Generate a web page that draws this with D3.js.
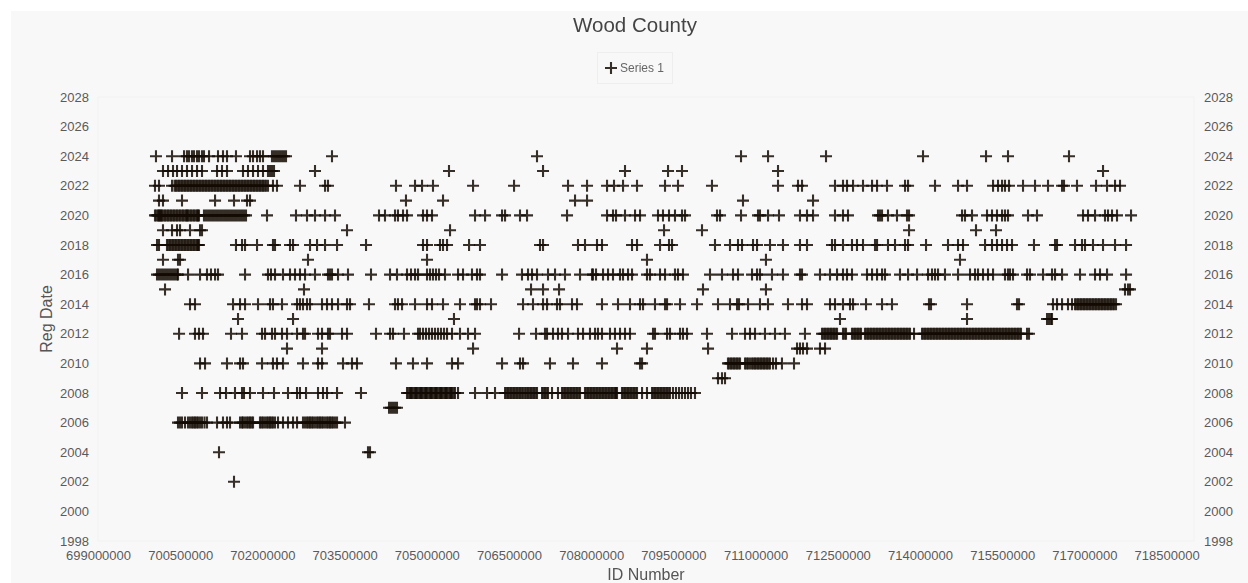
<!DOCTYPE html>
<html>
<head>
<meta charset="utf-8">
<script src="https://cdn.jsdelivr.net/npm/d3@7"></script>
<style>
	html, body { margin: 0; padding: 0; background: #fff; overflow: hidden; }
	text { font-family: "Liberation Sans", Arial, sans-serif; }
	.marks { filter: blur(0.4px); }
</style>
</head>
<body>
<svg id="chart" width="1248" height="583"></svg>
<script>
// ID numbers are kept in thousands, one list per registration year
const ids2024 = [700058,700351,700570,700624,700661,700716,700752,700807,700843,700898,700934,701026,701190,701281,701354,701518,701774,701829,701902,701956,702011,702175,702212,702248,702285,702321,702358,702394,702431,703270,707011,710734,711227,712285,714055,715205,715606,716719]
const ids2023 = [700186,700278,700369,700442,700533,700624,700716,700807,700898,701172,701263,701354,701646,701737,701829,701920,702011,702102,702139,702175,702212,702960,705405,707121,708617,709402,709657,711409,717340]
const ids2022 = [700040,700113,700351,700424,700479,700533,700588,700643,700697,700752,700807,700862,700916,700971,701026,701081,701136,701190,701245,701300,701354,701409,701464,701518,701573,701628,701683,701737,701792,701847,701902,701956,702011,702066,702102,702193,702266,702686,703143,703197,704438,704785,704913,705113,705844,706592,707577,707924,708289,708416,708581,708836,709347,709584,710204,711409,711774,711847,712449,712595,712668,712778,712960,713125,713216,713398,713727,713782,714274,714694,714858,715333,715424,715497,715551,715624,715880,716099,716336,716592,716628,716865,717212,717413,717559,717650]
const ids2021 = [700113,700186,700533,701136,701482,701719,701774,704620,705296,707705,707924,710770,712048]
const ids2020 = [700040,700095,700131,700168,700223,700278,700332,700387,700442,700497,700552,700606,700643,700697,700752,700807,700843,700934,700971,701008,701044,701081,701117,701154,701190,701227,701263,701300,701336,701372,701409,701445,701482,701518,701555,701592,701628,701664,701701,702084,702613,702814,702960,703143,703325,704128,704237,704420,704474,704566,704639,704931,705004,705095,705880,706063,706373,706428,706701,706829,707559,708289,708398,708453,708617,708800,708891,709219,709310,709420,709529,709657,709712,710296,710351,710734,711044,711080,711227,711427,711810,711938,712048,712449,712595,712686,713234,713270,713307,713416,713580,713763,713800,714767,714821,714949,715223,715314,715405,715497,715551,715606,715971,716135,716975,717066,717194,717376,717431,717504,717595,717851]
const ids2019 = [700186,700351,700442,700497,700679,700862,700898,703544,705424,709329,710022,713800,715022,715387]
const ids2018 = [700077,700113,700259,700314,700369,700424,700479,700533,700588,700643,700697,700752,700807,700843,701518,701628,701683,701902,702193,702230,702504,702559,702869,702997,703143,703362,703891,704931,705004,705241,705296,705369,705771,705971,707066,707121,707759,707887,708106,708197,708745,708836,709256,709420,709475,710259,710533,710679,710752,710953,711026,711263,711500,711810,711938,712394,712449,712595,712759,712850,712960,713179,713216,713416,713544,713727,713782,714110,714511,714694,714785,715187,715314,715405,715497,715588,715679,716080,716464,716500,716829,716956,717011,717157,717340,717559,717760]
const ids2017 = [700186,700460,700497,702832,705004,709018,711189,714730]
const ids2016 = [700077,700113,700150,700186,700223,700259,700296,700332,700369,700405,700442,700460,700643,700862,700989,701062,701136,701190,701683,702102,702157,702230,702376,702504,702595,702686,702778,702960,703197,703234,703270,703380,703562,703982,704329,704456,704639,704712,704785,704840,705004,705059,705113,705168,705223,705332,705570,705661,705825,705916,705971,706373,706737,706847,706920,707011,707212,707340,707522,707796,708015,708033,708088,708216,708307,708398,708526,708581,708672,708745,709018,709073,709256,709347,709529,709584,709675,710168,710387,710588,710679,710935,711026,711080,711299,711500,711810,711847,712175,712358,712486,712595,712668,712759,713033,713125,713216,713307,713361,713635,713782,713946,714147,714219,714274,714329,714456,714694,714913,715004,715059,715150,715241,715333,715551,715606,715642,715697,715953,716007,716245,716409,716464,716592,716920,717194,717285,717413,717760]
const ids2015 = [700223,702759,706902,707121,707413,710040,711189,717741,717796,717832]
const ids2014 = [700679,700770,701464,701592,701683,701920,702139,702193,702358,702632,702686,702741,702814,702869,703088,703179,703270,703380,703544,703599,703945,704420,704474,704548,704785,705004,705095,705296,705606,705880,705916,705971,706172,706756,706938,707121,707194,707376,707431,707650,707741,708197,708489,708708,708891,708946,709164,709347,709384,709621,709931,710314,710533,710661,710697,710862,711080,711226,711591,711847,711938,712358,712449,712595,712723,712778,713015,713307,713489,714164,714201,714858,715770,715807,716427,716500,716592,716701,716774,716829,716884,716938,716993,717048,717102,717157,717212,717267,717322,717376,717431,717486,717541,717577]
const ids2013 = [701555,702559,705496,712540,714858,716318,716354,716390,716409]
const ids2012 = [700479,700770,700843,700916,701427,701628,701993,702048,702175,702230,702358,702449,702632,702741,702778,703015,703088,703197,703234,703453,703544,704073,704329,704383,704584,704840,704876,704931,704986,705041,705095,705150,705205,705259,705314,705369,705460,705606,705752,705880,706683,706993,707157,707194,707303,707394,707467,707577,707759,707851,707978,708070,708124,708197,708343,708434,708526,708617,708708,709128,709164,709384,709438,709621,709675,709748,710113,710570,710807,710898,710989,711171,711354,711536,711901,712212,712267,712321,712376,712431,712486,712595,712650,712759,712814,712869,712924,712996,713051,713106,713161,713216,713270,713325,713380,713435,713489,713544,713599,713653,713708,713763,713818,713891,714037,714091,714147,714201,714256,714311,714365,714420,714475,714530,714584,714639,714694,714748,714803,714858,714913,714968,715022,715077,715132,715187,715241,715296,715351,715405,715460,715515,715570,715624,715679,715734,715789,715843,715953,715989]
const ids2011 = [702449,703088,705844,708471,709018,710132,711756,711810,711865,711938,712175,712267]
const ids2010 = [700862,700953,701354,701592,701646,701993,702193,702266,702376,702741,703015,703088,703471,703635,703726,704438,704748,705004,705460,705570,706373,706701,706756,707248,707668,708197,708891,708928,710496,710551,710606,710661,710716,710807,710862,710935,710989,711044,711098,711153,711208,711263,711318,711372,711481,711701]
const ids2009 = [710314,710387,710442]
const ids2008 = [700533,700898,701227,701336,701500,701628,701664,701774,702011,702212,702467,702632,702686,702796,703015,703106,703179,703362,703799,704639,704694,704730,704785,704822,704876,704913,704968,705004,705059,705095,705150,705186,705241,705277,705332,705369,705424,705460,705515,705570,705880,706099,706245,706428,706482,706537,706592,706646,706701,706756,706792,706847,706902,706956,707011,707103,707157,707212,707285,707394,707467,707522,707577,707632,707686,707741,707796,707887,707942,707997,708051,708106,708161,708216,708270,708325,708380,708434,708471,708562,708617,708672,708726,708781,708836,708928,709018,709110,709164,709219,709274,709329,709384,709438,709493,709548,709603,709657,709712,709767,709821,709894]
const ids2007 = [704311,704347,704383,704420,704456]
const ids2006 = [700460,700533,700643,700716,700770,700825,700898,700989,701172,701281,701354,701409,701592,701646,701719,701774,701829,701956,702011,702084,702139,702193,702285,702376,702467,702559,702632,702741,702814,702869,702924,702997,703051,703106,703179,703234,703289,703362,703507]
const ids2004 = [701208,703927,703964]
const ids2002 = [701482]

// the black runs hold more IDs than can be told apart, these are estimates inside them
const dense2022 = [700397,700452,700506,700561,700615,700670,700725,700780,700834,700889,700944,700998,701053,701108,701163,701218,701272,701327,701382,701436,701491,701546,701600,701655,701710,701765,701820,701874,701929,701984,702038]
const dense2020 = [700067,700113,700150,700195,700250,700305,700360,700415,700470,700525,700579,700625,700670,700725,700780,700825]
const dense2018 = [700287,700342,700397,700452,700506,700561,700615,700670,700725,700780,700825]
const dense2014 = [716856,716911,716966,717020,717075,717130,717185,717240,717295,717349,717404,717459,717514]
const dense2012 = [712240,712294,712349,712403,712459,712623,712787,712842,712897,713024,713079,713134,713189,713243,713298,713353,713408,713462,713517,713572,713626,713681,713736,713791,714064,714119,714174,714229,714284,714338,714393,714448,714503,714557,714612,714667,714721,714776,714831,714886,714941,714995,715050,715105,715160,715214,715269,715324,715378,715433,715488,715543,715597,715652,715707,715762,715816]
const dense2010 = [710523,710578,710633,710688,710835,710898,710962,711016,711071,711126,711180,711235]
const dense2008 = [704667,704712,704758,704804,704849,704895,704940,704986,705032,705077,705123,705168,705214,705259,705305,705351,705396,705442,705488,706455,706510,706565,706619,706674,706729,706820,706875,706929,706984,707130,707185,707495,707550,707605,707659,707714,707769,707915,707970,708024,708079,708134,708189,708243,708298,708353,708407,708453,708590,708645,708699,708754,708809,709137,709192,709247,709301,709356,709411]
const dense2006 = [700497,700588,700680,700743,700798,700862,700944,701628,701683,701747,701802,701984,702048,702112,702166,702230,702778,702842,702897,702960,703024,703079,703143,703207,703261,703325]

const rows = [
	[2024, ids2024], [2023, ids2023], [2022, ids2022], [2022, dense2022], [2021, ids2021],
	[2020, ids2020], [2020, dense2020], [2019, ids2019], [2018, ids2018], [2018, dense2018],
	[2017, ids2017], [2016, ids2016], [2015, ids2015], [2014, ids2014], [2014, dense2014],
	[2013, ids2013], [2012, ids2012], [2012, dense2012], [2011, ids2011], [2010, ids2010],
	[2010, dense2010], [2009, ids2009], [2008, ids2008], [2008, dense2008], [2007, ids2007],
	[2006, ids2006], [2006, dense2006], [2004, ids2004], [2002, ids2002]
]
const points = rows.flatMap(([year, ids]) => ids.map(id => ({ id: id * 1000, year })))

const xTicks = d3.range(699000000, 718500001, 1500000)
const yTicks = d3.range(1998, 2029, 2)

const svg = d3.select("#chart")
const plotLeft = 98, plotRight = 1194, plotTop = 97, plotBottom = 541

const xScale = d3.scaleLinear().domain([699000000, 719000000]).range([plotLeft, plotRight])
const yScale = d3.scaleLinear().domain([1998, 2028]).range([plotBottom, plotTop])

svg.append("rect")
	.attr("x", 11).attr("y", 11)
	.attr("width", 1237).attr("height", 572)
	.attr("fill", "#f9f8f9")
svg.append("rect")
	.attr("x", plotLeft).attr("y", plotTop)
	.attr("width", plotRight - plotLeft).attr("height", plotBottom - plotTop)
	.attr("fill", "#f9f8f9")
	.attr("stroke", "#f2f1f2")

const plus = "M-6,0H6M0,-6V6"
svg.append("g")
	.attr("class", "marks")
	.selectAll("path")
	.data(points)
	.enter().append("path")
		.attr("d", plus)
		.attr("transform", d => `translate(${xScale(d.id)},${yScale(d.year)})`)
		.attr("fill", "none")
		.attr("stroke", "#140c04")
		.attr("stroke-opacity", 0.85)
		.attr("stroke-width", 2.1)

function styleAxis(g) {
	g.select(".domain").remove()
	g.selectAll("text")
		.attr("fill", "#5a5a5a")
		.style("font-size", "13px")
		.style("font-family", "'Liberation Sans', Arial, sans-serif")
}

svg.append("g")
	.attr("transform", `translate(0,${plotBottom})`)
	.call(d3.axisBottom(xScale).tickValues(xTicks).tickFormat(d3.format("d")).tickSize(0).tickPadding(10))
	.call(styleAxis)
svg.append("g")
	.attr("transform", `translate(${plotLeft},0)`)
	.call(d3.axisLeft(yScale).tickValues(yTicks).tickFormat(d3.format("d")).tickSize(0).tickPadding(9))
	.call(styleAxis)
svg.append("g")
	.attr("transform", `translate(${plotRight},0)`)
	.call(d3.axisRight(yScale).tickValues(yTicks).tickFormat(d3.format("d")).tickSize(0).tickPadding(10))
	.call(styleAxis)

svg.append("text")
	.attr("x", 635).attr("y", 32)
	.attr("text-anchor", "middle")
	.attr("fill", "#444")
	.style("font-size", "20.5px")
	.text("Wood County")
svg.append("text")
	.attr("x", 646).attr("y", 579.5)
	.attr("text-anchor", "middle")
	.attr("fill", "#555")
	.style("font-size", "16px")
	.text("ID Number")
svg.append("text")
	.attr("transform", "translate(52,319) rotate(-90)")
	.attr("text-anchor", "middle")
	.attr("fill", "#555")
	.style("font-size", "16px")
	.text("Reg Date")

// legend
const legend = svg.append("g")
legend.append("rect")
	.attr("x", 597.5).attr("y", 52.5)
	.attr("width", 75).attr("height", 31)
	.attr("fill", "none")
	.attr("stroke", "#efeeef")
legend.append("path")
	.attr("d", plus)
	.attr("transform", "translate(611,68)")
	.attr("fill", "none")
	.attr("stroke", "#140c04")
	.attr("stroke-opacity", 0.85)
	.attr("stroke-width", 2.1)
legend.append("text")
	.attr("x", 620).attr("y", 72)
	.attr("fill", "#666")
	.style("font-size", "12px")
	.text("Series 1")
</script>
</body>
</html>
